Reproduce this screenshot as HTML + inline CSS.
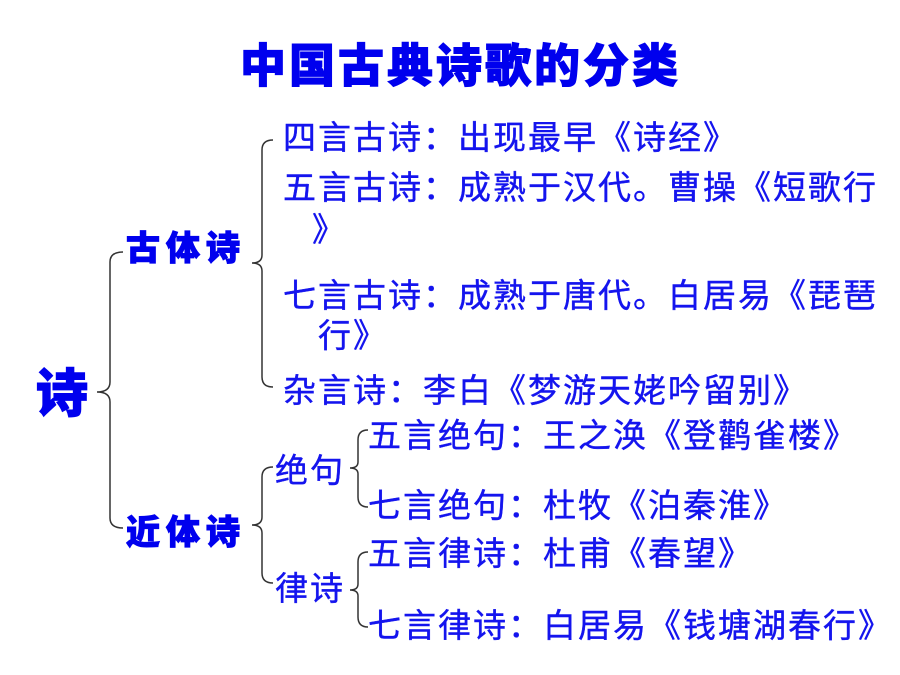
<!DOCTYPE html>
<html><head><meta charset="utf-8"><style>
html,body{margin:0;padding:0;background:#fff;}
svg{display:block}
.t{font-family:"Liberation Sans","Noto Sans CJK SC",sans-serif;font-size:33px;fill:#1414ee;letter-spacing:2px;stroke:#1414ee;stroke-width:0.4}
.b{font-family:"Liberation Sans","Noto Sans CJK SC",sans-serif;font-weight:900;fill:#0000ee;stroke:#0000ee;stroke-width:1}
path{fill:none;stroke:#333;stroke-width:1.5}
</style></head><body>
<svg width="900" height="675" viewBox="0 0 900 675" xmlns="http://www.w3.org/2000/svg">
<text class="b" x="240" y="82" font-size="46" letter-spacing="3">中国古典诗歌的分类</text>
<text class="b" x="36" y="412" font-size="52">诗</text>
<text class="b" x="126" y="260" font-size="34" letter-spacing="6">古体诗</text>
<text class="b" x="126" y="544" font-size="34" letter-spacing="6">近体诗</text>

<path d="M123,252 Q110,252 110,262 L110,382 Q110,392 97,392 Q110,392 110,402 L110,518 Q110,528 123,528"/>
<path d="M273,140 Q262,140 262,150 L262,255 Q262,263 252,263 Q262,263 262,271 L262,377 Q262,387 273,387"/>
<path d="M273,467 Q262,467 262,477 L262,517 Q262,525 252,525 Q262,525 262,533 L262,573 Q262,583 273,583"/>
<path d="M368,430 Q358,430 358,440 L358,462 Q358,468 350,468 Q358,468 358,474 L358,497 Q358,507 368,507"/>
<path d="M368,552 Q358,552 358,562 L358,584 Q358,590 350,590 Q358,590 358,596 L358,617 Q358,627 368,627"/>

<text class="t" x="283" y="149">四言古诗：出现最早《诗经》</text>
<text class="t" x="283" y="199">五言古诗：成熟于汉代。曹操《短歌行</text>
<text class="t" x="312" y="241">》</text>
<text class="t" x="283" y="307">七言古诗：成熟于唐代。白居易《琵琶</text>
<text class="t" x="318" y="347">行》</text>
<text class="t" x="283" y="402">杂言诗：李白《梦游天姥吟留别》</text>
<text class="t" x="275" y="482">绝句</text>
<text class="t" x="275" y="600">律诗</text>
<text class="t" x="368" y="447">五言绝句：王之涣《登鹳雀楼》</text>
<text class="t" x="368" y="517">七言绝句：杜牧《泊秦淮》</text>
<text class="t" x="368" y="565">五言律诗：杜甫《春望》</text>
<text class="t" x="368" y="637">七言律诗：白居易《钱塘湖春行》</text>
</svg>
</body></html>
